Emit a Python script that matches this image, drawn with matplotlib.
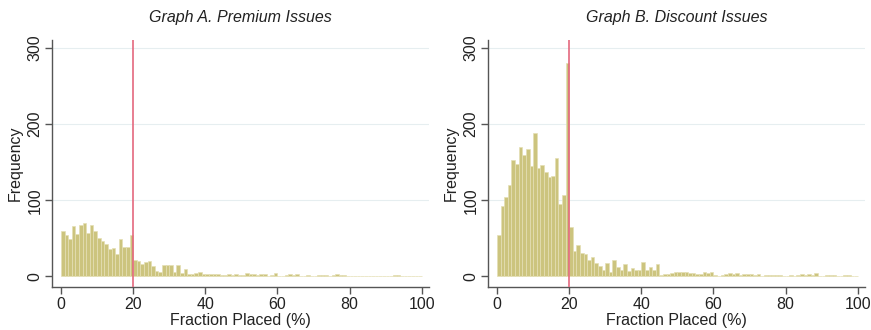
import numpy as np
import matplotlib.pyplot as plt

plt.rcParams['font.family'] = ['Liberation Sans', 'DejaVu Sans']

# bin left edges (1% wide bins) and counts
bins = np.arange(0, 100)

premium = [60, 55, 49, 66, 56, 68, 70, 57, 67, 59,
           50, 46, 43, 36, 37, 30, 49, 38, 39, 54,
           22, 20, 16, 19, 20, 14, 7, 6, 15, 15,
           15, 6, 15, 4, 10, 3, 3, 5, 6, 3,
           3, 3, 3, 3, 2, 2, 3, 2, 3, 2,
           2, 4, 3, 3, 2, 3, 3, 0, 2, 4,
           1, 0, 2, 3, 2, 3, 1, 1, 2, 1,
           0, 2, 2, 2, 1, 2, 3, 2, 2, 1,
           0, 1, 1, 0, 0, 1, 0, 0, 1, 0,
           0, 1, 2, 2, 1, 0, 0, 0, 0, 0]

discount = [54, 93, 104, 120, 153, 148, 170, 160, 168, 145,
            188, 143, 147, 137, 130, 132, 156, 95, 107, 281,
            65, 33, 41, 31, 30, 21, 25, 17, 14, 9,
            17, 6, 21, 12, 9, 16, 7, 11, 9, 9,
            19, 8, 12, 8, 16, 2, 3, 3, 5, 6,
            6, 6, 6, 5, 4, 3, 3, 6, 5, 6,
            2, 1, 2, 3, 4, 3, 4, 2, 3, 3,
            3, 2, 3, 0, 2, 2, 2, 2, 2, 1,
            0, 2, 0, 2, 3, 2, 3, 2, 4, 0,
            0, 2, 2, 2, 0, 1, 2, 2, 1, 1]

titles = ['Graph A. Premium Issues', 'Graph B. Discount Issues']
cutoff = 20

fig = plt.figure(figsize=(8.71, 3.30), dpi=100)
ax_a = fig.add_axes([0.0597, 0.1303, 0.4328, 0.747])
ax_b = fig.add_axes([0.5603, 0.1303, 0.4328, 0.747])

for ax, counts, title in zip([ax_a, ax_b], [premium, discount], titles):
    for y in [100, 200, 300]:
        ax.axhline(y, color='#e6eef0', linewidth=0.8, zorder=0)
    ax.bar(bins, counts, width=1, align='edge', color='#ccc47e',
           edgecolor='#e4dfb4', linewidth=0.5, zorder=2)
    ax.axvline(cutoff, color='#e4687e', linewidth=1.2, zorder=3)

    ax.set_xlim(-2.5, 102)
    ax.set_ylim(-14, 310)
    ax.set_xticks([0, 20, 40, 60, 80, 100])
    ax.set_yticks([0, 100, 200, 300])
    ax.set_yticklabels(['0', '100', '200', '300'], rotation=90, va='center')

    ax.spines['top'].set_visible(False)
    ax.spines['right'].set_visible(False)
    for s in ['left', 'bottom']:
        ax.spines[s].set_color('#555555')
        ax.spines[s].set_linewidth(1.0)
    ax.tick_params(direction='out', length=5, width=1, color='#555555',
                   labelsize=11.5, labelcolor='#222222')
    ax.tick_params(axis='x', pad=2)
    ax.tick_params(axis='y', pad=2)

    ax.set_xlabel('Fraction Placed (%)', fontsize=11.5, color='#222222', labelpad=1)
    ax.set_ylabel('Frequency', fontsize=11.5, color='#222222', labelpad=3)
    ax.set_title(title, fontsize=11.5, style='italic', color='#222222', pad=13)

fig.savefig('out.png', dpi=100)
